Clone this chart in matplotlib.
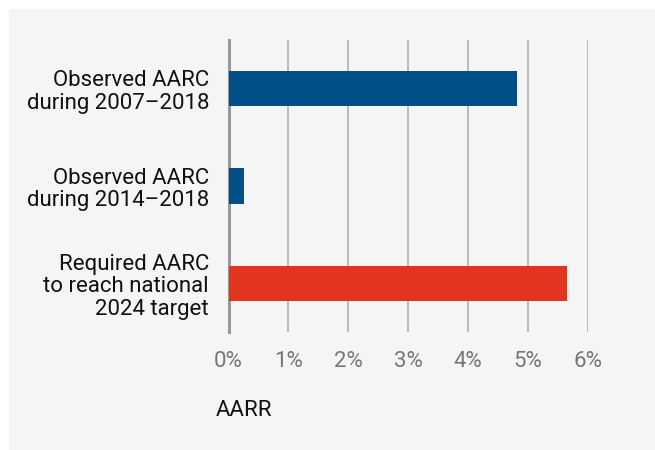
import matplotlib
matplotlib.use("Agg")
import matplotlib.pyplot as plt
from matplotlib.patches import Rectangle
from matplotlib.ticker import FuncFormatter

categories = ["Observed AARC\nduring 2007\u20132018",
              "Observed AARC\nduring 2014\u20132018",
              "Required AARC\nto reach national\n2024 target"]
values = [4.81, 0.26, 5.65]
colors = ["#004f87", "#004f87", "#e3341f"]
xticks = [0, 1, 2, 3, 4, 5, 6]
xlabel = "AARR"

plt.rcParams['font.family'] = ['Roboto', 'DejaVu Sans']

W, H = 655, 450
fig = plt.figure(figsize=(W / 100, H / 100), dpi=100)
fig.patch.set_facecolor("white")
bg = Rectangle((9 / W, 0), 1 - 9 / W, 1 - 9 / H,
               transform=fig.transFigure, facecolor="#f5f5f5",
               edgecolor="none", zorder=-10)
fig.patches.append(bg)

left, right = 228.5 / W, 588 / W
top, bottom = 1 - 40 / H, 1 - 332 / H
ax = fig.add_axes([left, bottom, right - left, top - bottom])
ax.set_zorder(5)
ax.set_facecolor("none")

ypos = list(range(len(categories)))
ax.barh(ypos, values, height=0.36, color=colors, zorder=3)
ax.set_ylim(2.5, -0.5)
ax.set_xlim(0, 6)

ax.set_xticks(xticks)
ax.xaxis.set_major_formatter(FuncFormatter(lambda v, p: f"{int(v)}%"))
ax.tick_params(axis='x', length=0, pad=14, labelsize=16, labelcolor="#777777")
ax.set_yticks(ypos)
ax.set_yticklabels(categories, fontsize=16, color="#111111", linespacing=1.1)
ax.tick_params(axis='y', length=0, pad=14)
for lbl in ax.get_yticklabels():
    lbl.set_horizontalalignment('right')

ax.grid(axis='x', color="#b5b5b5", linewidth=1.3, zorder=1)
ax.grid(axis='y', visible=False)
for s in ["top", "right", "bottom"]:
    ax.spines[s].set_visible(False)
ax.spines["left"].set_color("#999999")
ax.spines["left"].set_linewidth(2.2)
ax.spines["left"].set_zorder(2)

fig.text(216 / W, 1 - 410 / H, xlabel, fontsize=16, color="#111111",
         ha="left", va="center")

fig.savefig("out.png", dpi=100, facecolor=fig.get_facecolor())
